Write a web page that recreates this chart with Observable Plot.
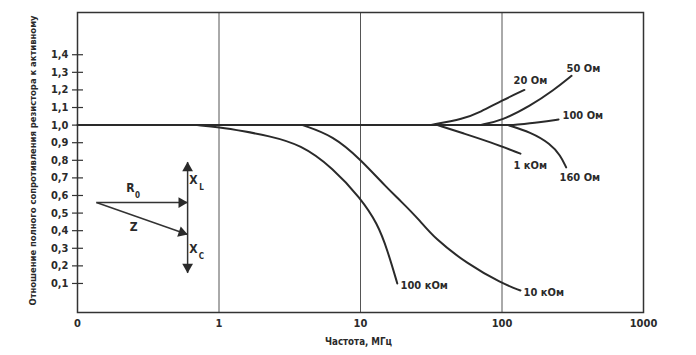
<!DOCTYPE html>
<html>
<head>
<meta charset="utf-8">
<script src="https://cdn.jsdelivr.net/npm/d3@7"></script>
<script src="https://cdn.jsdelivr.net/npm/@observablehq/plot@0.6"></script>
<style>
  html, body { margin: 0; padding: 0; background: #fff; }
  #chart svg { display: block; }
</style>
</head>
<body>
<div id="chart"></div>
<script>
// ---- data ----
const xTickValues = [0.1, 1, 10, 100, 1000];
const xTickLabels = ["0", "1", "10", "100", "1000"];
const yTickValues = [0.1, 0.2, 0.3, 0.4, 0.5, 0.6, 0.7, 0.8, 0.9, 1.0, 1.1, 1.2, 1.3, 1.4];
const xTitle = "Частота, МГц";
const yTitle = "Отношение полного сопротивления резистора к активному";

// common baseline (ratio = 1)
const baseFreq = [0.1, 120];
const baseVal  = [1.0, 1.0];

const seriesNames = ["100 кОм", "10 кОм", "20 Ом", "50 Ом", "100 Ом", "1 кОм", "160 Ом"];
const freq100k = [0.7, 1.0, 1.5, 2.2, 3.8, 6.4, 10, 13.2, 15.5, 18.2];
const val100k  = [1.0, 0.988, 0.965, 0.94, 0.89, 0.755, 0.585, 0.44, 0.29, 0.1];
const freq10k  = [3.9, 6.4, 10, 15.5, 19.2, 26.5, 33, 57, 100, 135];
const val10k   = [1.0, 0.94, 0.806, 0.64, 0.57, 0.455, 0.36, 0.21, 0.10, 0.06];
const freq20   = [31, 54, 70, 100, 144];
const val20    = [1.0, 1.036, 1.073, 1.14, 1.20];
const freq50   = [70, 100, 159, 231, 310];
const val50    = [1.0, 1.026, 1.11, 1.197, 1.28];
const freq100  = [120, 187, 251];
const val100   = [1.0, 1.017, 1.032];
const freq1k   = [35, 54, 83, 135];
const val1k    = [1.0, 0.952, 0.903, 0.838];
const freq160  = [110, 159, 220, 259, 284];
const val160   = [1.0, 0.96, 0.894, 0.827, 0.76];

// curve labels
const labelText = ["20 Ом", "50 Ом", "100 Ом", "1 кОм", "160 Ом", "100 кОм", "10 кОм"];
const labelFreq = [120.6, 286, 268, 120.6, 255, 19.2, 142];
const labelVal  = [1.253, 1.32, 1.054, 0.77, 0.702, 0.086, 0.049];

// vector inset (R0, Z, XL, XC)
const vecOriginFreq = 0.136, vecOriginVal = 0.56;
const vecR0End = [0.6, 0.56];
const vecZEnd  = [0.6, 0.378];
const vecXTop = 0.79, vecXBottom = 0.16, vecXFreq = 0.6;
const insetText = ["R", "Z", "X", "X"];
const insetTextFreq = [0.237, 0.249, 0.66, 0.66];
const insetTextVal  = [0.64, 0.418, 0.685, 0.293];
const insetSub = ["0", "L", "C"];
const insetSubFreq = [0.265, 0.752, 0.752];
const insetSubVal  = [0.600, 0.645, 0.253];

// ---- build tables ----
const seriesArrays = [
  [freq100k, val100k], [freq10k, val10k], [freq20, val20], [freq50, val50],
  [freq100, val100], [freq1k, val1k], [freq160, val160]
];
const curves = [];
seriesArrays.forEach(([f, v], i) => f.forEach((fr, j) => curves.push({name: seriesNames[i], f: fr, v: v[j]})));
const base = baseFreq.map((f, i) => ({f, v: baseVal[i]}));
const labels = labelText.map((t, i) => ({t, f: labelFreq[i], v: labelVal[i]}));
const insetT = insetText.map((t, i) => ({t, f: insetTextFreq[i], v: insetTextVal[i]}));
const insetS = insetSub.map((t, i) => ({t, f: insetSubFreq[i], v: insetSubVal[i]}));
const vecLinks = [
  {x1: vecOriginFreq, y1: vecOriginVal, x2: vecR0End[0], y2: vecR0End[1]},
  {x1: vecOriginFreq, y1: vecOriginVal, x2: vecZEnd[0], y2: vecZEnd[1]},
  {x1: vecXFreq, y1: vecXTop, x2: vecXFreq, y2: vecXBottom}
];

const FONT = "'DejaVu Sans Condensed', 'Liberation Sans Narrow', 'Arial Narrow', sans-serif";
const INK = "#2a2a2a";

const chart = Plot.plot({
  width: 696,
  height: 355,
  marginLeft: 77,
  marginRight: 53,
  marginTop: 12,
  marginBottom: 43,
  style: {fontFamily: FONT, fontWeight: "bold", fontSize: "11px", color: INK, background: "#fff"},
  x: {type: "log", domain: [0.1, 1000], axis: null},
  y: {domain: [-0.065, 1.64], axis: null},
  marks: [
    Plot.ruleX([1, 10, 100], {stroke: "#555", strokeWidth: 1}),
    Plot.frame({stroke: "#333", strokeWidth: 1.5}),
    Plot.axisX({
      ticks: xTickValues,
      tickSize: 0,
      tickPadding: 7,
      tickFormat: (d) => xTickLabels[xTickValues.indexOf(d)],
      label: null,
      fontSize: 11,
      fill: INK
    }),
    Plot.axisY({
      ticks: yTickValues,
      tickSize: 11,
      dx: 6,
      tickPadding: 4,
      tickFormat: (d) => d.toFixed(1).replace(".", ","),
      label: null,
      stroke: "#333",
      strokeWidth: 1.2,
      fill: INK,
      fontSize: 11
    }),
    Plot.text([xTitle], {frameAnchor: "bottom", dy: 32, dx: -2, fontSize: 11, fontWeight: "bold", fill: INK, className: "xtitle"}),
    Plot.text([yTitle], {frameAnchor: "bottom-left", textAnchor: "start", rotate: -90, dx: -42, dy: -7, fontSize: 9.5, fontWeight: "bold", fill: INK, className: "ytitle"}),
    Plot.line(base, {x: "f", y: "v", stroke: INK, strokeWidth: 2}),
    Plot.line(curves, {x: "f", y: "v", z: "name", stroke: INK, strokeWidth: 2, curve: "basis"}),
    Plot.text(labels, {x: "f", y: "v", text: "t", textAnchor: "start", fontSize: 11, fill: INK}),
    // vector inset
    Plot.link(vecLinks, {x1: "x1", y1: "y1", x2: "x2", y2: "y2", stroke: "#333", strokeWidth: 1.5}),
    Plot.dot([{f: vecXFreq, v: vecXTop}], {x: "f", y: "v", symbol: "triangle", r: 4, fill: INK, stroke: "none", dy: 6}),
    Plot.dot([{f: vecXFreq, v: vecXBottom}], {x: "f", y: "v", symbol: "triangle", r: 4, rotate: 180, fill: INK, stroke: "none", dy: -6}),
    Plot.dot([{f: vecR0End[0], v: vecR0End[1]}], {x: "f", y: "v", symbol: "triangle", r: 4, rotate: 90, fill: INK, stroke: "none", dx: -6}),
    Plot.dot([{f: vecZEnd[0], v: vecZEnd[1]}], {x: "f", y: "v", symbol: "triangle", r: 4, rotate: 109, fill: INK, stroke: "none", dx: -5.7, dy: -2}),
    Plot.text(insetT, {x: "f", y: "v", text: "t", fontSize: 12, fill: INK}),
    Plot.text(insetS, {x: "f", y: "v", text: "t", fontSize: 8, fill: INK})
  ]
});
// fit the long titles to the reference's lengths
d3.select(chart).selectAll(".ytitle text").attr("textLength", 290).attr("lengthAdjust", "spacingAndGlyphs");
d3.select(chart).selectAll(".xtitle text").attr("textLength", 67).attr("lengthAdjust", "spacingAndGlyphs");
document.getElementById("chart").appendChild(chart);
</script>
</body>
</html>
